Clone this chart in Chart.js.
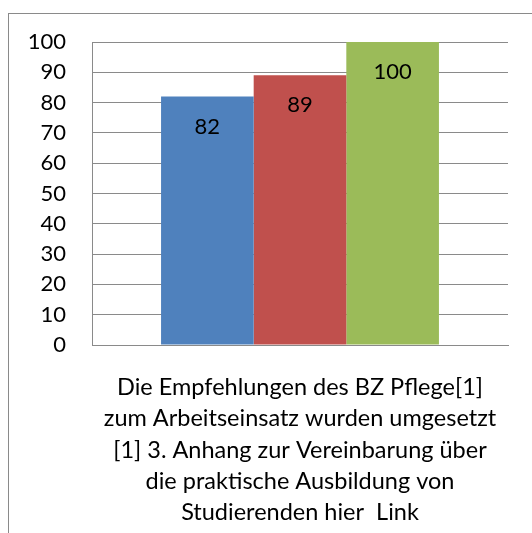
<!DOCTYPE html>
<html>
<head>
<meta charset="utf-8">
<script src="https://cdn.jsdelivr.net/npm/chart.js"></script>
<style>
    html, body { margin: 0; padding: 0; background: #fff; overflow: hidden; }
    #wrap { position: relative; width: 532px; height: 533px; }
    #frame { position: absolute; left: 8px; top: 13px; width: 600px; height: 600px; border: 1px solid #8a8a8a; }
    #chart { position: absolute; left: 0; top: 0; }
</style>
</head>
<body>
<div id="wrap">
    <div id="frame"></div>
    <canvas id="chart" width="532" height="533"></canvas>
</div>
<script>
// Data
const categoryLines = [
    'Die Empfehlungen des BZ Pflege[1]',
    'zum Arbeitseinsatz wurden umgesetzt',
    '[1] 3. Anhang zur Vereinbarung über',
    'die praktische Ausbildung von',
    'Studierenden hier  Link'
];
const seriesNames = ['Reihe 1', 'Reihe 2', 'Reihe 3'];
const seriesValues = [82, 89, 100];
const yTicks = [0, 10, 20, 30, 40, 50, 60, 70, 80, 90, 100];

const barColors = ['#4f81bd', '#c0504d', '#9bbb59'];
const fontFamily = 'Lato, "Noto Sans", sans-serif';
const fontSize = 22;

// Value labels inside the bars, a fixed distance below the top
const valueLabels = {
    id: 'valueLabels',
    afterDatasetsDraw(chart) {
        const ctx = chart.ctx;
        ctx.save();
        ctx.font = `${fontSize}px ${fontFamily}`;
        ctx.fillStyle = '#000';
        ctx.textAlign = 'center';
        ctx.textBaseline = 'middle';
        chart.data.datasets.forEach((ds, i) => {
            const bar = chart.getDatasetMeta(i).data[0];
            ctx.fillText(String(ds.data[0]), bar.x, bar.y + 30);
        });
        ctx.restore();
    }
};

new Chart(document.getElementById('chart'), {
    type: 'bar',
    data: {
        labels: [categoryLines],
        datasets: seriesNames.map((name, i) => ({
            label: name,
            data: [seriesValues[i]],
            backgroundColor: barColors[i],
            borderWidth: 0,
            barPercentage: 1,
            categoryPercentage: 0.668
        }))
    },
    options: {
        responsive: false,
        animation: false,
        layout: { padding: { top: 42, right: 24, left: 0, bottom: 0 } },
        plugins: {
            legend: { display: false },
            tooltip: { enabled: false }
        },
        scales: {
            x: {
                grid: { display: false, drawTicks: false },
                border: { display: true, color: '#8a8a8a', width: 1 },
                ticks: {
                    color: '#000',
                    padding: 27,
                    maxRotation: 0,
                    font: { family: fontFamily, size: 23.5, lineHeight: 1.33 }
                },
                afterFit(scale) {
                    scale.height = 188;
                    // the long label may overhang; keep the plot width fixed
                    scale.paddingLeft = 0;
                    scale.paddingRight = 0;
                }
            },
            y: {
                min: 0,
                max: 100,
                afterBuildTicks(scale) { scale.ticks = yTicks.map(v => ({ value: v })); },
                grid: { color: '#8a8a8a', lineWidth: 1, drawTicks: false },
                border: { display: true, color: '#8a8a8a', width: 1 },
                ticks: {
                    color: '#000',
                    padding: 26,
                    font: { family: fontFamily, size: fontSize }
                },
                afterFit(scale) { scale.width = 92; }
            }
        }
    },
    plugins: [valueLabels]
});
</script>
</body>
</html>
